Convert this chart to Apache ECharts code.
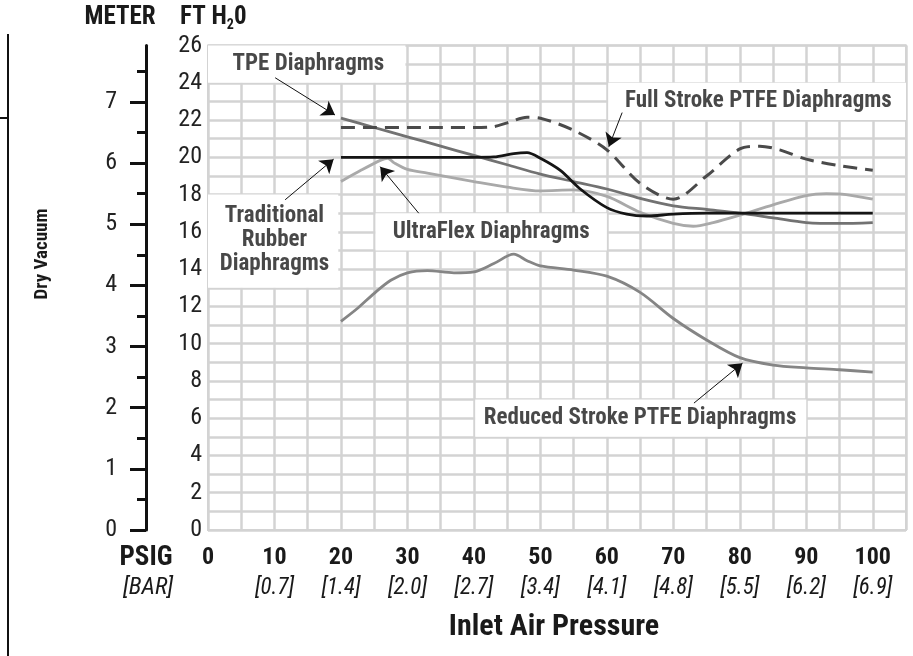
<!DOCTYPE html>
<html>
<head>
<meta charset="utf-8">
<script src="https://cdn.jsdelivr.net/npm/echarts@6/dist/echarts.min.js"></script>
<style>
html, body { margin: 0; padding: 0; background: #fff; }
#chart { width: 913px; height: 656px; }
</style>
</head>
<body>
<div id="chart"></div>
<script>
// x axis ticks (PSIG) and the bar values printed under them
var psigTicks = [0, 10, 20, 30, 40, 50, 60, 70, 80, 90, 100]
var barLabels = ['', '[0.7]', '[1.4]', '[2.0]', '[2.7]', '[3.4]', '[4.1]', '[4.8]', '[5.5]', '[6.2]', '[6.9]']
var meterTicks = [0, 1, 2, 3, 4, 5, 6, 7]

// curves (ft H2O against PSIG)
var tpePsig = [20, 25, 30, 35, 40, 45, 50, 55, 60, 65, 70, 75, 80, 85, 90, 95, 100]
var tpeFt = [22.1, 21.6, 21.1, 20.6, 20.1, 19.6, 19.1, 18.7, 18.3, 17.8, 17.4, 17.2, 17.0, 16.75, 16.5, 16.45, 16.5]

var fullPsig = [20, 25, 30, 35, 40, 43, 45, 48, 50, 55, 60, 65, 70, 75, 80, 83, 86, 90, 95, 100]
var fullFt = [21.6, 21.6, 21.6, 21.6, 21.6, 21.65, 21.85, 22.15, 22.1, 21.45, 20.4, 18.6, 17.75, 19.0, 20.45, 20.6, 20.4, 19.9, 19.55, 19.3]

var rubberPsig = [20, 25, 30, 35, 40, 43, 46, 48, 50, 53, 56, 60, 63, 66, 70, 75, 80, 90, 100]
var rubberFt = [20.0, 20.0, 20.0, 20.0, 20.0, 20.02, 20.2, 20.25, 19.95, 19.3, 18.3, 17.3, 16.95, 16.85, 16.95, 17.0, 17.0, 17.0, 17.0]

var ultraPsig = [20, 23, 26, 27, 28, 30, 33, 40, 45, 50, 55, 60, 65, 70, 73, 76, 80, 85, 90, 93, 96, 100]
var ultraFt = [18.7, 19.3, 19.85, 19.95, 19.7, 19.35, 19.15, 18.7, 18.4, 18.2, 18.25, 17.9, 17.05, 16.45, 16.3, 16.5, 16.9, 17.45, 17.95, 18.05, 18.0, 17.75]

var reducedPsig = [20, 22.5, 25, 27.5, 30, 33, 37, 40, 43, 46, 48, 50, 55, 60, 65, 70, 75, 80, 85, 90, 95, 100]
var reducedFt = [11.2, 11.9, 12.7, 13.4, 13.8, 13.92, 13.8, 13.85, 14.3, 14.8, 14.45, 14.17, 13.95, 13.62, 12.75, 11.35, 10.2, 9.25, 8.85, 8.7, 8.6, 8.47]

var FONT = '"Roboto Condensed", "DejaVu Sans Condensed", sans-serif'
var FT_PER_M = 3.28084

function zip (xs, ys) {
  return xs.map(function (x, i) { return [x, ys[i]] })
}

var chart = echarts.init(document.getElementById('chart'))

// white boxes behind the callouts, in data coordinates
var boxes = [
  [{ coord: [0, 24] }, { coord: [29.7, 26] }],
  [{ coord: [0, 13] }, { coord: [19.6, 18] }],
  [{ coord: [25.2, 15] }, { coord: [60, 17] }],
  [{ coord: [60.2, 22] }, { coord: [105, 24] }],
  [{ coord: [40.2, 5] }, { coord: [90, 7] }]
]
// callout arrows
var arrows = [
  [{ coord: [10.1, 24.27] }, { coord: [19.1, 22.27] }],
  [{ coord: [11.6, 17.72] }, { coord: [18.9, 19.9] }],
  [{ coord: [31.7, 17.0] }, { coord: [25.9, 19.5] }],
  [{ coord: [62.3, 22.4] }, { coord: [60.3, 20.57] }],
  [{ coord: [73.1, 6.81] }, { coord: [80.4, 8.95] }]
]
var callouts = [
  { name: 'TPE Diaphragms', value: [15.1, 25.0] },
  { name: 'Traditional\nRubber\nDiaphragms', value: [10.0, 15.55] },
  { name: 'UltraFlex Diaphragms', value: [42.6, 16.0] },
  { name: 'Full Stroke PTFE Diaphragms', value: [82.8, 23.0] },
  { name: 'Reduced Stroke PTFE Diaphragms', value: [65.0, 6.0] }
]

function curve (name, xs, ys, color, dashed) {
  return {
    name: name,
    type: 'line',
    data: zip(xs, ys),
    smooth: 0.3,
    showSymbol: false,
    silent: true,
    z: 5,
    lineStyle: { color: color, width: dashed ? 3 : 2.8, type: dashed ? [14, 8] : 'solid' }
  }
}

var gridLine = { lineStyle: { color: '#d3d3d3', width: 2.5 } }

chart.setOption({
  animation: false,
  backgroundColor: '#fff',
  grid: { left: 208, right: 7, top: 45.5, bottom: 126, show: true, borderColor: '#d3d3d3', borderWidth: 2 },
  xAxis: {
    type: 'value',
    min: 0,
    max: 105,
    interval: 5,
    axisLine: { show: false },
    axisTick: { show: false },
    splitLine: gridLine,
    axisLabel: {
      margin: 12,
      formatter: function (v) {
        var i = psigTicks.indexOf(v)
        if (i < 0) return ''
        return barLabels[i] ? '{b|' + v + '}\n{i|' + barLabels[i] + '}' : '{b|' + v + '}'
      },
      rich: {
        b: { fontFamily: FONT, fontWeight: 'bold', fontSize: 24, lineHeight: 31, color: '#1a1a1a' },
        i: { fontFamily: FONT, fontStyle: 'italic', fontSize: 23, lineHeight: 31, color: '#1a1a1a' }
      }
    }
  },
  yAxis: [
    {
      type: 'value',
      min: 0,
      max: 26,
      interval: 1,
      position: 'left',
      axisLine: { show: false },
      axisTick: { show: false },
      splitLine: gridLine,
      axisLabel: {
        margin: 6,
        fontFamily: FONT,
        fontSize: 24,
        color: '#222',
        formatter: function (v) { return v % 2 === 0 ? String(v) : '' }
      }
    },
    {
      type: 'value',
      min: 0,
      max: 26 / FT_PER_M,
      interval: 1,
      position: 'left',
      offset: 62,
      splitLine: { show: false },
      axisLine: { show: true, lineStyle: { color: '#111', width: 3 } },
      axisTick: { show: true, length: 16, customValues: meterTicks, lineStyle: { color: '#111', width: 3 } },
      minorTick: { show: true, splitNumber: 2, length: 9, lineStyle: { color: '#111', width: 3 } },
      axisLabel: {
        margin: 29,
        fontFamily: FONT,
        fontSize: 24,
        color: '#222',
        customValues: meterTicks
      }
    }
  ],
  series: [
    {
      type: 'line',
      data: [],
      z: 1,
      silent: true,
      markArea: { silent: true, itemStyle: { color: '#fff' }, data: boxes },
      markLine: {
        silent: true,
        symbol: ['none', 'arrow'],
        symbolSize: 13,
        label: { show: false },
        lineStyle: { color: '#111', width: 1, type: 'solid' },
        data: arrows
      }
    },
    curve('UltraFlex Diaphragms', ultraPsig, ultraFt, '#a9a9a9', false),
    curve('Reduced Stroke PTFE Diaphragms', reducedPsig, reducedFt, '#858585', false),
    curve('TPE Diaphragms', tpePsig, tpeFt, '#727272', false),
    curve('Traditional Rubber Diaphragms', rubberPsig, rubberFt, '#151515', false),
    curve('Full Stroke PTFE Diaphragms', fullPsig, fullFt, '#4a4a4a', true),
    {
      type: 'scatter',
      data: callouts,
      symbolSize: 0,
      silent: true,
      z: 10,
      label: {
        show: true,
        position: 'inside',
        formatter: '{b}',
        fontFamily: FONT,
        fontWeight: 'bold',
        fontSize: 23,
        lineHeight: 24,
        color: '#1a1a1a'
      }
    }
  ],
  graphic: [
    { type: 'line', shape: { x1: 8, y1: 34, x2: 8, y2: 656 }, style: { stroke: '#111', lineWidth: 2 } },
    { type: 'line', shape: { x1: 0, y1: 118, x2: 8, y2: 118 }, style: { stroke: '#111', lineWidth: 2 } },
    { type: 'text', x: 120, y: 18, style: { text: 'METER', font: 'bold 25px ' + FONT, fill: '#1a1a1a', align: 'center', verticalAlign: 'middle' } },
    {
      type: 'text',
      x: 180,
      y: 18,
      style: {
        text: '{a|FT H}{s|2}{a|0}',
        align: 'left',
        verticalAlign: 'middle',
        rich: {
          a: { font: 'bold 25px ' + FONT, fill: '#1a1a1a', lineHeight: 28 },
          s: { font: 'bold 14px ' + FONT, fill: '#1a1a1a', lineHeight: 28, verticalAlign: 'bottom', padding: [10, 0, 0, 0] }
        }
      }
    },
    { type: 'text', x: 42, y: 254, rotation: Math.PI / 2, style: { text: 'Dry Vacuum', font: 'bold 19px ' + FONT, fill: '#1a1a1a', align: 'center', verticalAlign: 'middle' } },
    { type: 'text', x: 146, y: 558, style: { text: 'PSIG', font: 'bold 27px ' + FONT, fill: '#1a1a1a', align: 'center', verticalAlign: 'middle' } },
    { type: 'text', x: 148, y: 588, style: { text: '[BAR]', font: 'italic 24px ' + FONT, fill: '#1a1a1a', align: 'center', verticalAlign: 'middle' } },
    { type: 'text', x: 554, y: 627, style: { text: 'Inlet Air Pressure', font: 'bold 30px ' + FONT, fill: '#1a1a1a', align: 'center', verticalAlign: 'middle' } }
  ]
})
</script>
</body>
</html>
